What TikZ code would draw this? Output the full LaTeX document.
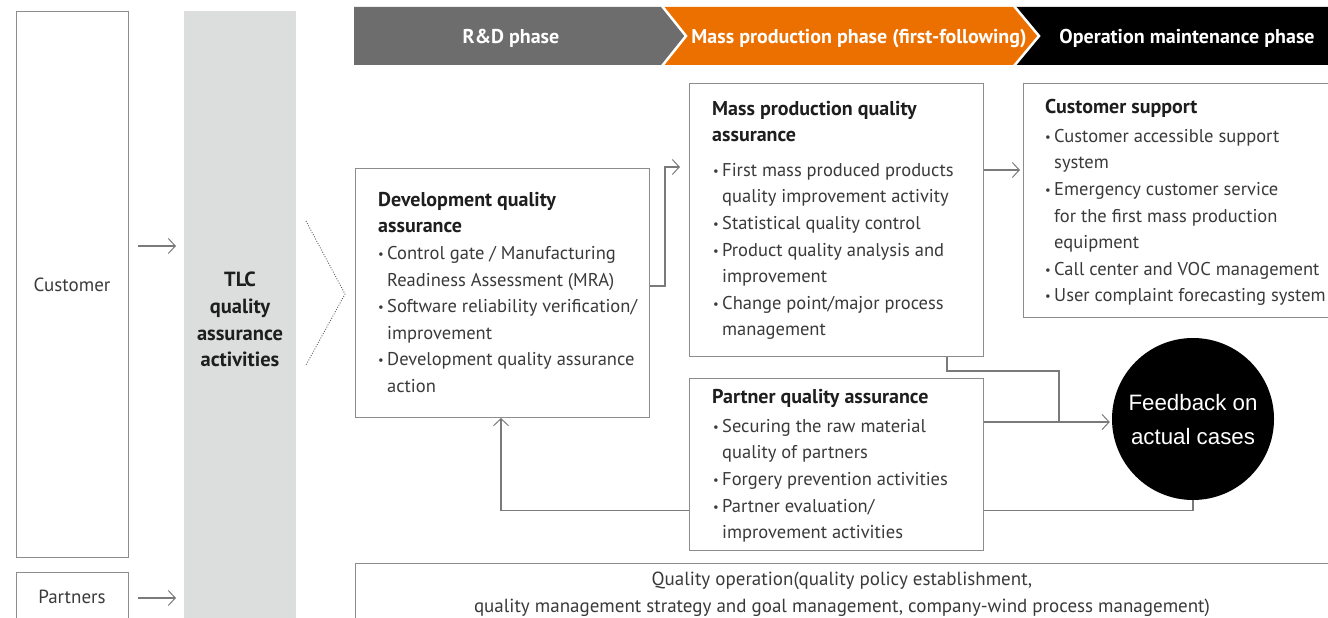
\documentclass[tikz,border=0pt]{standalone}
\usepackage{fontspec}
\setmainfont{PT Sans}
\newfontfamily\fbfont{Liberation Sans}
\usetikzlibrary{arrows.meta,calc}
\pgfdeclarelayer{bg}
\pgfsetlayers{bg,main}
\definecolor{linec}{HTML}{7A7A7A}
\definecolor{boxc}{HTML}{8C8C8C}
\definecolor{colc}{HTML}{DCDDDD}
\definecolor{rdc}{HTML}{6D6D6D}
\definecolor{orc}{HTML}{EC7000}
\definecolor{bodyc}{HTML}{3A3A3A}
\definecolor{titlec}{HTML}{1E1E1E}
\newcommand\bu{\makebox[9pt][l]{\raisebox{0.1ex}{\scalebox{0.68}{•}}}}
\newcommand\ind{\hspace*{9pt}}
\newcommand\ttl[1]{{\bfseries\color{titlec}\fontsize{20}{26.6}\selectfont #1}}
\tikzset{
  box/.style={draw=boxc, line width=1pt, fill=white, inner sep=0pt},
  conn/.style={draw=linec, line width=1.1pt},
  arr/.style={conn, -{Straight Barb[length=7pt,width=15pt,line width=1pt]}},
  txt/.style={inner sep=0pt, align=left, text=bodyc, font=\fontsize{18.5}{26.6}\selectfont},
  ctxt/.style={inner sep=0pt, text=bodyc, font=\fontsize{19}{26.6}\selectfont, anchor=base},
  tlct/.style={inner sep=0pt, text=titlec, font=\bfseries\fontsize{20.5}{26.6}\selectfont, anchor=base},
  phase/.style={inner sep=0pt, text=white, font=\bfseries\fontsize{20}{22}\selectfont, anchor=base},
  fbt/.style={inner sep=0pt, text=white, font=\fbfont\fontsize{22.3}{30}\selectfont, anchor=base}
}
\begin{document}
\begin{tikzpicture}[x=1pt,y=-1pt]
\useasboundingbox (0,0) rectangle (1328,618);
\clip (0,0) rectangle (1328,618);

% left column
\node[box, anchor=north west, minimum width=112pt, minimum height=546pt] (custL) at (16,11) {};
\node[ctxt] (custLt) at (72,291) {Customer};
\node[box, anchor=north west, minimum width=112pt, minimum height=90pt] (partL) at (16,572) {};
\node[ctxt] (partLt) at (72,603) {Partners};

\node[fill=colc, inner sep=0pt, anchor=north west, minimum width=112pt, minimum height=640pt] (tlc) at (184,11) {};
\node[tlct] (tlc1) at (240,286) {TLC};
\node[tlct] (tlc2) at (240,313) {quality};
\node[tlct] (tlc3) at (240,340) {assurance};
\node[tlct] (tlc4) at (240,366) {activities};

\coordinate (ca) at (138,246);
\coordinate (pa) at (138,598);
\draw[arr] (ca) -- ([xshift=-8pt]ca -| tlc.west);
\draw[arr] (pa) -- ([xshift=-8pt]pa -| tlc.west);

% dotted chevron
\coordinate (d1) at (306,221);
\coordinate (d2) at (345,294);
\coordinate (d3) at (306,365);
\draw[black!65, line width=0.9pt, dash pattern=on 0.9pt off 1.6pt] (d1) -- (d2) -- (d3);

% phase banner
\fill[rdc] (354,7) -- (662,7) -- (686,36) -- (662,65) -- (354,65) -- cycle;
\fill[orc] (662,7) -- (1014,7) -- (1039,36) -- (1014,65) -- (662,65) -- (686,36) -- cycle;
\fill[black] (1014,7) -- (1330,7) -- (1330,65) -- (1014,65) -- (1039,36) -- cycle;
\draw[white, line width=2.5pt] (662,6) -- (686,36) -- (662,66);
\draw[white, line width=2.5pt] (1014,6) -- (1039,36) -- (1014,66);
\node[phase] (ph1) at (511,44) {R\&D phase};
\node[phase] (ph2) at (859,44) {Mass production phase (first-following)};
\node[phase] (ph3) at (1187,44) {Operation maintenance phase};

% boxes
\node[box, anchor=north west, minimum width=294pt, minimum height=249pt] (dev) at (355,168) {};
\node[box, anchor=north west, minimum width=294pt, minimum height=273pt] (mass) at (689,83) {};
\node[box, anchor=north west, minimum width=330pt, minimum height=234pt] (cust) at (1023,83) {};
\node[box, anchor=north west, minimum width=294pt, minimum height=172pt] (part) at (689,378) {};
\node[box, anchor=north west, minimum width=1000pt, minimum height=80pt] (qop) at (355,563) {};
\node[circle, fill=black, inner sep=0pt, minimum size=162pt] (fb) at (1193,419) {};

% texts
\node[txt, anchor=north west] (devt) at (378,191) {\rule{0pt}{15pt}\ttl{Development quality}\\
\ttl{assurance}\\
\bu Control gate / Manufacturing\\
\ind Readiness Assessment (MRA)\\
\bu Software reliability verification/\\
\ind improvement\\
\bu Development quality assurance\\
\ind action};

\node[txt, anchor=north west] (masst1) at (712,100) {\rule{0pt}{15pt}\ttl{Mass production quality}\\
\ttl{assurance}};
\node[txt, anchor=north west] (masst2) at (713,161) {\rule{0pt}{15pt}\bu First mass produced products\\
\ind quality improvement activity\\
\bu Statistical quality control\\
\bu Product quality analysis and\\
\ind improvement\\
\bu Change point/major process\\
\ind management};

\node[txt, anchor=north west] (custt1) at (1045,98) {\rule{0pt}{15pt}\ttl{Customer support}};
\node[txt, anchor=north west] (custt2) at (1045,127) {\rule{0pt}{15pt}\bu Customer accessible support\\
\ind system\\
\bu Emergency customer service\\
\ind for the first mass production\\
\ind equipment\\
\bu Call center and VOC management\\
\bu User complaint forecasting system};

\node[txt, anchor=north west] (partt1) at (712,388) {\rule{0pt}{15pt}\ttl{Partner quality assurance}};
\node[txt, anchor=north west] (partt2) at (713,417) {\rule{0pt}{15pt}\bu Securing the raw material\\
\ind quality of partners\\
\bu Forgery prevention activities\\
\bu Partner evaluation/\\
\ind improvement activities};

\node[ctxt] (qop1) at (842,585) {Quality operation(quality policy establishment,};
\node[ctxt] (qop2) at (842,612) {quality management strategy and goal management, company-wind process management)};

\node[fbt] (fb1) at (1193,410) {Feedback on};
\node[fbt] (fb2) at (1193,444) {actual cases};

% connectors
\begin{pgfonlayer}{bg}
\coordinate (e1) at ([yshift=-118pt]dev.north east);
\coordinate (e2) at ([xshift=-9pt,yshift=-84pt]mass.north west);
\draw[arr] (e1) -- ++(15,0) |- (e2);
\coordinate (m1) at ([yshift=-87pt]mass.north east);
\draw[arr] (m1) -- ([xshift=-3pt]m1 -| cust.west);
\coordinate (mb) at ([xshift=-37pt]mass.south east);
\coordinate (jn) at (1059,422);
\draw[conn] (mb) -- ++(0,14) -| (jn);
\coordinate (p1) at ([yshift=-44pt]part.north east);
\draw[arr] (p1) -- ([xshift=-2pt]p1 -| fb.west);
\coordinate (dv) at ([xshift=146pt]dev.south west);
\draw[arr] (fb.south) -- ++(0,10) -| (dv);
\end{pgfonlayer}
\end{tikzpicture}
\end{document}
